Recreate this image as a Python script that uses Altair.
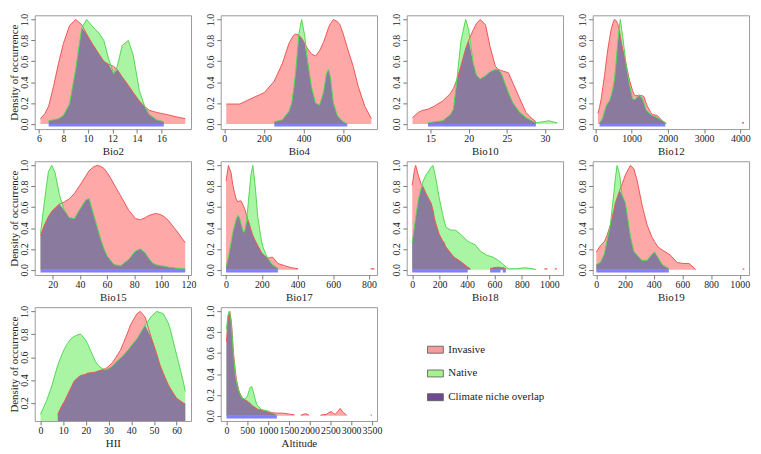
import altair as alt
import pandas as pd

FONT = "Liberation Serif"
RED_FILL = "#FFA8A8"
RED_LINE = "#EE5555"
GREEN_FILL = "#A9F5A3"
GREEN_LINE = "#55D655"
PURPLE_FILL = "#8A7A9E"
BLUE_BAR = "#7F7FFF"
BOX = "#9a9a9a"
TXT = "#222222"

N = None

# ---------------- data ----------------
BIO2_X = [6.13, 6.5, 6.8, 7.2, 7.6, 8.0, 8.5, 9.0, 9.5, 9.9, 10.4, 10.9, 11.3, 11.7, 12.1, 12.4, 12.8, 13.3, 13.7, 14.2, 14.6, 15.0, 15.6, 16.2, 16.6, 17.3, 17.95]
BIO2_INV = [0.05, 0.10, 0.17, 0.36, 0.58, 0.77, 0.94, 1.0, 0.95, 0.86, 0.76, 0.67, 0.60, 0.57, 0.55, 0.52, 0.45, 0.37, 0.30, 0.22, 0.17, 0.13, 0.11, 0.095, 0.085, 0.065, 0.05]
BIO2_NAT = [N, N, 0.03, 0.04, 0.05, 0.08, 0.19, 0.52, 0.92, 1.0, 0.93, 0.87, 0.80, 0.62, 0.48, 0.55, 0.75, 0.80, 0.66, 0.32, 0.18, 0.09, 0.04, 0.02, N, N, N]
BIO2_BARS = [(6.8, 16.2)]

BIO4_X = [10, 78, 144, 202, 252, 293, 326, 340, 351, 360, 376, 390, 405, 420, 440, 460, 480, 500, 515, 525, 535, 550, 570, 583, 600, 620, 650, 675, 708, 741]
BIO4_INV = [0.19, 0.19, 0.25, 0.30, 0.41, 0.58, 0.77, 0.82, 0.85, 0.86, 0.85, 0.82, 0.77, 0.72, 0.67, 0.65, 0.70, 0.78, 0.86, 0.92, 0.96, 1.0, 0.98, 0.95, 0.86, 0.73, 0.55, 0.36, 0.17, 0.05]
BIO4_NAT = [N, N, N, N, 0.02, 0.04, 0.12, 0.2, 0.35, 0.5, 0.86, 1.0, 0.85, 0.6, 0.35, 0.2, 0.18, 0.3, 0.48, 0.52, 0.45, 0.2, 0.08, 0.05, 0.02, 0.0, N, N, N, N]
BIO4_BARS = [(252, 620)]

BIO10_X = [12.64, 13.4, 14.0, 14.66, 15.5, 16.6, 17.6, 18.0, 18.5, 19.0, 19.6, 20.0, 20.6, 21.0, 21.5, 22.2, 22.8, 23.5, 23.9, 24.3, 25.2, 25.8, 26.7, 27.5, 28.0, 28.8, 29.7, 30.5, 31.6]
BIO10_INV = [0.06, 0.11, 0.13, 0.14, 0.17, 0.22, 0.29, 0.34, 0.43, 0.56, 0.72, 0.80, 0.90, 0.96, 1.0, 0.95, 0.74, 0.55, 0.52, 0.51, 0.49, 0.39, 0.24, 0.11, 0.07, 0.02, N, N, N]
BIO10_NAT = [N, N, N, 0.01, 0.02, 0.03, 0.09, 0.14, 0.46, 0.80, 1.0, 0.9, 0.58, 0.47, 0.43, 0.46, 0.50, 0.52, 0.52, 0.48, 0.30, 0.2, 0.11, 0.06, 0.04, 0.01, 0.02, 0.03, 0.01]
BIO10_BARS = [(14.66, 28.8)]

BIO12_X = [73, 118, 164, 209, 255, 300, 345, 391, 436, 482, 527, 573, 618, 660, 691, 720, 755, 818, 845, 936, 1027, 1073, 1118, 1209, 1300, 1345, 1391, 1436, 1527, 1573, 1709, 1845, 1891, 1936, 1964, 4050, 4100]
BIO12_INV = [0.10, 0.16, 0.24, 0.35, 0.46, 0.59, 0.71, 0.81, 0.90, 0.96, 1.0, 0.99, 0.96, 0.90, 0.84, 0.78, 0.72, 0.62, 0.58, 0.43, 0.32, 0.28, 0.27, 0.27, 0.27, 0.26, 0.21, 0.17, 0.11, 0.09, 0.08, 0.03, 0.02, 0.01, N, 0.012, 0.012]
BIO12_NAT = [N, 0.01, 0.03, 0.06, 0.12, 0.17, 0.20, 0.22, 0.27, 0.33, 0.42, 0.58, 0.78, 0.92, 1.0, 0.93, 0.84, 0.66, 0.58, 0.39, 0.24, 0.23, 0.24, 0.28, 0.24, 0.20, 0.14, 0.12, 0.09, 0.08, 0.06, 0.03, 0.02, 0.01, 0.0, N, N]
BIO12_BARS = [(118, 1930)]

BIO15_X = [11, 13.9, 16.8, 19.3, 21.7, 24.9, 28.5, 32.2, 35.9, 39.5, 42, 44.4, 46.8, 50.5, 53, 55.4, 57.8, 60.2, 63.9, 65.1, 70, 76, 81, 84.6, 88.3, 90.7, 93.2, 95.6, 99.3, 102, 105.4, 109, 111.5, 117.6]
BIO15_INV = [0.33, 0.43, 0.51, 0.56, 0.59, 0.63, 0.65, 0.68, 0.73, 0.80, 0.85, 0.90, 0.95, 0.99, 1.0, 0.99, 0.97, 0.93, 0.85, 0.82, 0.71, 0.57, 0.49, 0.48, 0.50, 0.52, 0.53, 0.54, 0.53, 0.51, 0.47, 0.41, 0.37, 0.26]
BIO15_NAT = [0.35, 0.66, 0.94, 1.0, 0.93, 0.72, 0.57, 0.50, 0.49, 0.57, 0.62, 0.67, 0.68, 0.51, 0.40, 0.29, 0.20, 0.13, 0.07, 0.05, 0.04, 0.10, 0.18, 0.20, 0.16, 0.11, 0.07, 0.05, 0.04, 0.035, 0.025, 0.02, 0.015, 0.01]
BIO15_BARS = [(11, 117.6)]

BIO17_X = [0, 13, 28, 37, 47, 56, 66, 75, 84, 95, 103, 112, 122, 130, 140, 150, 163, 178, 197, 206, 225, 234, 253, 262, 290, 328, 365, 403, 600, 810, 830]
BIO17_INV = [0.85, 1.0, 0.93, 0.82, 0.74, 0.68, 0.65, 0.66, 0.66, 0.62, 0.59, 0.54, 0.48, 0.44, 0.38, 0.33, 0.28, 0.23, 0.17, 0.15, 0.12, 0.11, 0.12, 0.12, 0.06, 0.04, 0.02, 0.01, N, 0.01, 0.01]
BIO17_NAT = [0.03, 0.12, 0.26, 0.35, 0.42, 0.48, 0.52, 0.50, 0.44, 0.37, 0.36, 0.44, 0.60, 0.75, 0.92, 1.0, 0.80, 0.50, 0.29, 0.22, 0.14, 0.11, 0.06, 0.045, 0.015, N, N, N, N, N, N]
BIO17_BARS = [(0, 290)]

BIO18_X = [0, 17, 25, 46, 65, 77, 101, 113, 137, 150, 161, 173, 197, 221, 233, 245, 269, 281, 305, 317, 353, 400, 424, 460, 496, 544, 568, 592, 628, 650, 664, 683, 700, 760, 820, 880, 904, 930, 965, 985, 1010, 1040, 1055]
BIO18_INV = [0.81, 0.96, 1.0, 0.90, 0.82, 0.80, 0.73, 0.70, 0.64, 0.58, 0.50, 0.44, 0.34, 0.28, 0.26, 0.22, 0.18, 0.16, 0.12, 0.11, 0.08, 0.03, 0.01, N, N, N, 0.01, 0.02, 0.025, 0.02, 0.02, 0.01, N, N, N, N, N, N, 0.01, 0.01, N, 0.01, 0.01]
BIO18_NAT = [0.26, 0.42, 0.50, 0.68, 0.78, 0.84, 0.91, 0.93, 0.98, 1.0, 0.95, 0.87, 0.69, 0.54, 0.47, 0.41, 0.39, 0.38, 0.38, 0.38, 0.34, 0.28, 0.26, 0.24, 0.18, 0.14, 0.13, 0.12, 0.09, 0.07, 0.05, 0.03, 0.01, 0.01, 0.02, 0.01, 0.0, N, N, N, N, N, N]
BIO18_BARS = [(0, 405), (568, 645), (660, 683)]

BIO19_X = [0, 28, 56, 75, 98, 121, 133, 145, 163, 179, 203, 226, 238, 261, 284, 319, 354, 389, 406, 429, 459, 483, 506, 517, 564, 611, 646, 681, 692, 850, 1020, 1032]
BIO19_INV = [0.17, 0.23, 0.27, 0.33, 0.43, 0.56, 0.64, 0.69, 0.76, 0.82, 0.91, 0.97, 1.0, 0.97, 0.86, 0.62, 0.43, 0.31, 0.27, 0.22, 0.19, 0.17, 0.15, 0.14, 0.07, 0.06, 0.06, 0.02, 0.0, N, 0.008, 0.008]
BIO19_NAT = [0.05, 0.07, 0.15, 0.28, 0.43, 0.72, 0.88, 1.0, 0.91, 0.72, 0.64, 0.43, 0.32, 0.18, 0.14, 0.09, 0.09, 0.15, 0.17, 0.12, 0.05, 0.03, 0.01, N, N, N, N, N, N, N, N, N]
BIO19_BARS = [(0, 506)]

HII_X = [0, 2.5, 4.7, 7.6, 9.8, 10.5, 11.9, 13.4, 14.8, 17, 17.8, 19.9, 20.7, 22.9, 24.3, 25.8, 27.2, 28.7, 30.1, 31.6, 33, 35.2, 36.7, 38.9, 39.6, 42.5, 44, 46.1, 49, 51.2, 52.7, 54.1, 56.3, 57.1, 60, 62.9, 63.8]
HII_INV = [N, N, N, 0.10, 0.19, 0.21, 0.27, 0.33, 0.39, 0.43, 0.44, 0.45, 0.46, 0.465, 0.47, 0.48, 0.49, 0.50, 0.52, 0.55, 0.59, 0.66, 0.73, 0.84, 0.88, 0.98, 1.0, 0.95, 0.76, 0.63, 0.53, 0.46, 0.36, 0.33, 0.24, 0.20, 0.19]
HII_NAT = [0.10, 0.21, 0.33, 0.53, 0.64, 0.67, 0.72, 0.76, 0.78, 0.80, 0.80, 0.75, 0.72, 0.62, 0.56, 0.52, 0.50, 0.49, 0.50, 0.52, 0.55, 0.59, 0.62, 0.67, 0.69, 0.76, 0.81, 0.88, 0.96, 1.0, 0.99, 0.98, 0.90, 0.85, 0.62, 0.39, 0.30]
HII_BARS = [(7.6, 63.8)]

ALT_X = [0, 32, 63, 79, 110, 126, 158, 173, 213, 236, 292, 315, 370, 410, 449, 504, 528, 567, 607, 646, 662, 725, 764, 843, 883, 961, 1040, 1080, 1198, 1355, 1513, 1631, 1710, 1789, 1900, 1986, 2100, 2262, 2320, 2400, 2459, 2522, 2580, 2616, 2680, 2734, 2813, 2892, 3200, 3470, 3495]
ALT_INV = [0.71, 0.90, 0.98, 1.0, 0.92, 0.86, 0.66, 0.58, 0.43, 0.35, 0.25, 0.22, 0.18, 0.16, 0.15, 0.14, 0.13, 0.12, 0.10, 0.09, 0.085, 0.07, 0.06, 0.055, 0.05, 0.04, 0.03, 0.03, 0.025, 0.025, 0.015, 0.01, N, 0.005, 0.02, 0.005, N, 0.005, 0.01, 0.012, 0.03, 0.04, 0.02, 0.015, 0.04, 0.07, 0.03, 0.005, N, 0.006, 0.006]
ALT_NAT = [0.83, 0.96, 1.0, 0.98, 0.90, 0.82, 0.64, 0.56, 0.39, 0.33, 0.24, 0.22, 0.17, 0.165, 0.16, 0.19, 0.22, 0.27, 0.28, 0.23, 0.20, 0.11, 0.09, 0.06, 0.055, 0.05, 0.04, 0.03, 0.01] + [N] * 22
ALT_BARS = [(0, 1213)]

BAR_LEVEL = -0.012  # height of the blue overlap bar, just under zero

LEGEND_LABELS = ["Invasive", "Native", "Climate niche overlap"]
LEGEND_COLORS = ["#F59C9C", "#A6F28F", "#6E4A93"]

Y_TICKS = [0.0, 0.2, 0.4, 0.6, 0.8, 1.0]
W, H = 158, 115


def long_table(xs, inv, nat):
    rows = []
    seg = {"inv": 0, "nat": 0, "ovl": 0}
    prev = {"inv": False, "nat": False, "ovl": False}
    for x, a, b in zip(xs, inv, nat):
        vals = {"inv": a, "nat": b,
                "ovl": (min(a, b) if (a is not None and b is not None) else None)}
        for k, v in vals.items():
            if v is None:
                if prev[k]:
                    seg[k] += 1
                prev[k] = False
            else:
                rows.append({"x": x, "y": v, "series": k, "seg": seg[k]})
                prev[k] = True
    return pd.DataFrame(rows)


def panel(name, xs, inv, nat, bars, domain, ticks, first_col,
          ydom=(-0.05, 1.04), yticks=Y_TICKS):
    df = long_table(xs, inv, nat)
    xenc = alt.X("x:Q", scale=alt.Scale(domain=list(domain), nice=False, zero=False),
                 axis=alt.Axis(values=ticks, title=name, format="d",
                               labelOverlap=False, labelFlush=False))
    yaxis = dict(values=yticks, format=".1f", labelAngle=270, labelAlign="center",
                 labelBaseline="bottom", labelOverlap=False, labelFlush=False,
                 titlePadding=0, labelSeparation=0)
    if first_col:
        yaxis["title"] = "Density of occurrence"
    else:
        yaxis["title"] = None
    yenc = alt.Y("y:Q", stack=False,
                 scale=alt.Scale(domain=list(ydom), nice=False, zero=False),
                 axis=alt.Axis(**yaxis))
    base = alt.Chart(df)

    def area(series, color):
        return base.transform_filter(alt.datum.series == series).mark_area(
            color=color, opacity=1, clip=True).encode(
            x=xenc, y=yenc, detail="seg:N")

    def line(series, color):
        return base.transform_filter(alt.datum.series == series).mark_line(
            color=color, strokeWidth=1, clip=True).encode(
            x=xenc, y=yenc, detail="seg:N")

    layers = [area("inv", RED_FILL), area("nat", GREEN_FILL), area("ovl", PURPLE_FILL),
              line("inv", RED_LINE), line("nat", GREEN_LINE)]
    bdf = pd.DataFrame({"x": [b[0] for b in bars], "x2": [b[1] for b in bars],
                        "y": [BAR_LEVEL] * len(bars)})
    layers.append(alt.Chart(bdf).mark_rule(color=BLUE_BAR, strokeWidth=3, clip=True).encode(
        x=xenc, x2="x2:Q", y=yenc))
    return alt.layer(*layers).properties(width=W, height=H)


p = [
    panel("Bio2", BIO2_X, BIO2_INV, BIO2_NAT, BIO2_BARS, (5.66, 18.42), [6, 8, 10, 12, 14, 16], True),
    panel("Bio4", BIO4_X, BIO4_INV, BIO4_NAT, BIO4_BARS, (-18, 770), [0, 200, 400, 600], False),
    panel("Bio10", BIO10_X, BIO10_INV, BIO10_NAT, BIO10_BARS, (11.88, 32.36), [15, 20, 25, 30], False),
    panel("Bio12", BIO12_X, BIO12_INV, BIO12_NAT, BIO12_BARS, (-70, 4240), [0, 1000, 2000, 3000, 4000], False),
    panel("Bio15", BIO15_X, BIO15_INV, BIO15_NAT, BIO15_BARS, (6.7, 121.9), [20, 40, 60, 80, 100, 120], True),
    panel("Bio17", BIO17_X, BIO17_INV, BIO17_NAT, BIO17_BARS, (-30, 845), [0, 200, 400, 600, 800], False),
    panel("Bio18", BIO18_X, BIO18_INV, BIO18_NAT, BIO18_BARS, (-40, 1100), [0, 200, 400, 600, 800, 1000], False),
    panel("Bio19", BIO19_X, BIO19_INV, BIO19_NAT, BIO19_BARS, (-25, 1065), [0, 200, 400, 600, 800, 1000], False),
    panel("HII", HII_X, HII_INV, HII_NAT, HII_BARS, (-2.55, 66.35), [0, 10, 20, 30, 40, 50, 60], True,
          ydom=(0.042, 1.037), yticks=[0.2, 0.4, 0.6, 0.8, 1.0]),
    panel("Altitude", ALT_X, ALT_INV, ALT_NAT, ALT_BARS, (-139, 3622),
          [0, 500, 1000, 1500, 2000, 2500, 3000, 3500], False),
]

ldf = pd.DataFrame({"label": LEGEND_LABELS, "color": LEGEND_COLORS, "row": [0, 1, 2]})
ly = alt.Y("row:Q", axis=None, scale=alt.Scale(domain=[0, 2], range=[43, 91]))
legend_base = alt.Chart(ldf)
legend_boxes = legend_base.mark_point(
    shape="M-1,-0.44L1,-0.44L1,0.44L-1,0.44Z", size=256, filled=True, opacity=1,
    stroke="#555555", strokeWidth=0.8).encode(
    x=alt.value(29), y=ly, fill=alt.Fill("color:N", scale=None, legend=None))
legend_text = legend_base.mark_text(
    align="left", baseline="middle", font=FONT, fontSize=11, color=TXT).encode(
    x=alt.value(42), y=ly, text="label:N")
legend = alt.layer(legend_boxes, legend_text).properties(
    width=W, height=H, view=alt.ViewBackground(stroke="transparent"))

chart = alt.concat(*p, legend, columns=4, spacing={"row": 32.5, "column": 30},
                   bounds="flush").properties(
    padding={"left": 0, "top": 2, "right": 2, "bottom": 2}
).configure_view(stroke=BOX, strokeWidth=1).configure_axis(
    labelFont=FONT, titleFont=FONT, labelFontSize=10, titleFontSize=11,
    labelColor=TXT, titleColor=TXT, titleFontWeight="normal",
    tickColor="#777777", tickSize=4, domain=False, grid=False,
    labelPadding=1, titlePadding=2, labelOverlap=False, labelFlush=False
)

chart.save("out.html", embed_options={"renderer": "svg", "actions": False})
